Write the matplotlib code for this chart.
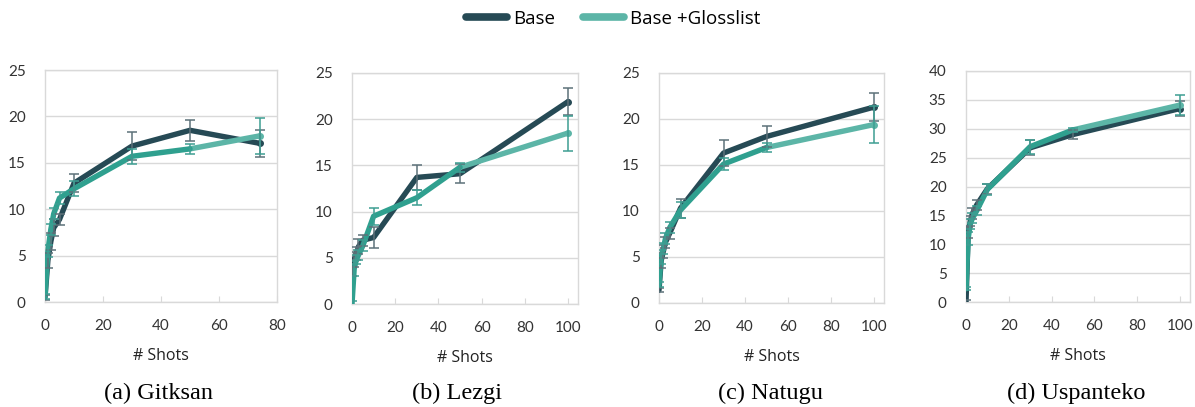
import matplotlib
matplotlib.use("Agg")
import matplotlib.pyplot as plt
from matplotlib.lines import Line2D

# ---------------- data ----------------
languages = ["Gitksan", "Lezgi", "Natugu", "Uspanteko"]
captions = ["(a) Gitksan", "(b) Lezgi", "(c) Natugu", "(d) Uspanteko"]
series_names = ["Base", "Base +Glosslist"]

shots_gitksan = [0, 1, 2, 3, 5, 10, 30, 50, 74]
shots_other = [0, 1, 2, 3, 5, 10, 30, 50, 100]

gitksan_base = [0.5, 4.5, 6.5, 8.0, 8.9, 12.8, 16.8, 18.5, 17.1]
gitksan_base_err = [0.3, 0.8, 0.9, 0.9, 0.6, 1.0, 1.5, 1.1, 1.45]
gitksan_gloss = [0.6, 5.5, 7.8, 9.5, 11.2, 12.2, 15.7, 16.5, 17.9]
gitksan_gloss_err = [0.3, 0.6, 0.6, 0.6, 0.6, 0.8, 0.8, 0.55, 1.95]

lezgi_base = [3.5, 4.8, 5.5, 6.2, 6.9, 7.2, 13.7, 14.1, 21.9]
lezgi_base_err = [0.5, 0.8, 0.7, 0.8, 0.6, 1.1, 1.35, 1.05, 1.45]
lezgi_gloss = [0.0, 3.8, 4.8, 5.3, 6.3, 9.5, 11.5, 14.8, 18.5]
lezgi_gloss_err = [0.3, 0.8, 0.5, 0.5, 0.6, 0.9, 0.8, 0.5, 1.9]

natugu_base = [1.4, 4.6, 5.6, 6.6, 7.6, 10.3, 16.3, 18.1, 21.3]
natugu_base_err = [0.2, 0.8, 0.7, 0.6, 0.6, 1.05, 1.4, 1.15, 1.55]
natugu_gloss = [2.0, 5.0, 5.9, 7.0, 8.2, 10.1, 15.1, 16.9, 19.4]
natugu_gloss_err = [0.3, 0.8, 0.6, 0.6, 0.6, 0.85, 0.65, 0.45, 2.0]

uspanteko_base = [0.0, 12.0, 14.0, 15.3, 16.8, 19.6, 26.7, 29.0, 33.5]
uspanteko_base_err = [0.3, 1.0, 0.9, 0.9, 0.8, 0.9, 1.3, 0.8, 1.3]
uspanteko_gloss = [2.3, 11.0, 13.5, 14.5, 15.8, 19.5, 26.9, 29.8, 34.1]
uspanteko_gloss_err = [0.3, 1.2, 0.9, 0.9, 0.8, 0.9, 1.2, 0.4, 1.8]

panel_data = [
    (shots_gitksan, gitksan_base, gitksan_base_err, gitksan_gloss, gitksan_gloss_err),
    (shots_other, lezgi_base, lezgi_base_err, lezgi_gloss, lezgi_gloss_err),
    (shots_other, natugu_base, natugu_base_err, natugu_gloss, natugu_gloss_err),
    (shots_other, uspanteko_base, uspanteko_base_err, uspanteko_gloss, uspanteko_gloss_err),
]
xlims = [(0, 80), (0, 104.6), (0, 104.6), (0, 104.7)]
ylims = [(0, 25), (0, 25), (0, 25), (0, 40)]
yticks = [range(0, 26, 5), range(0, 26, 5), range(0, 26, 5), range(0, 41, 5)]
xticks = [range(0, 81, 20), range(0, 101, 20), range(0, 101, 20), range(0, 101, 20)]

# ---------------- style ----------------
W, H = 1195, 407
BASE_C = "#264a55"
GLOSS_C = "#2fa08f"
GLOSS_LIGHT = "#5cb5a7"
BASE_ERR_C = "#5d7179"
GLOSS_ERR_C = "#3d9e92"
GRID_C = "#d9d9d9"
TICK_FONT = ["Lato", "DejaVu Sans"]
LABEL_FONT = ["Open Sans", "DejaVu Sans"]

fig = plt.figure(figsize=(W / 100, H / 100), dpi=100)

# pixel boxes: left, right, top, bottom
boxes = [(45, 277, 70, 302), (352, 578, 73, 304), (659, 884, 73, 303), (966, 1190, 71, 302)]
caption_x = [158, 457, 770, 1076]

LW = 3.9
for i, (box, data) in enumerate(zip(boxes, panel_data)):
    l, r, t, b = box
    ax = fig.add_axes([l / W, 1 - b / H, (r - l) / W, (b - t) / H])
    x, bm, be, gm, ge = data
    # base series
    ax.errorbar(x, bm, yerr=be, fmt="none", ecolor=BASE_ERR_C,
                elinewidth=1.1, capsize=3.5, capthick=1.1, zorder=5)
    ax.plot(x, bm, color=BASE_C, lw=LW, solid_capstyle="round",
            solid_joinstyle="round", zorder=3)
    ax.plot(x[-1:], bm[-1:], "o", color=BASE_C, ms=4, zorder=3)
    # glosslist series (last segment drawn lighter as in the original)
    ax.errorbar(x, gm, yerr=ge, fmt="none", ecolor=GLOSS_ERR_C,
                elinewidth=1.1, capsize=3.5, capthick=1.1, zorder=6)
    ax.plot(x[-2:], gm[-2:], color=GLOSS_LIGHT, lw=LW, solid_capstyle="round",
            solid_joinstyle="round", zorder=4)
    ax.plot(x[:-1], gm[:-1], color=GLOSS_C, lw=LW, solid_capstyle="round",
            solid_joinstyle="round", zorder=4)
    ax.plot(x[-1:], gm[-1:], "o", color=GLOSS_LIGHT, ms=4, zorder=4)

    ax.set_xlim(*xlims[i])
    ax.set_ylim(*ylims[i])
    ax.set_yticks(list(yticks[i]))
    ax.set_xticks(list(xticks[i]))
    ax.grid(axis="y", color=GRID_C, lw=1.0, zorder=0)
    ax.set_axisbelow(True)
    for s in ax.spines.values():
        s.set_color(GRID_C)
        s.set_linewidth(1.0)
    ax.tick_params(axis="y", length=0, pad=14, labelsize=11, labelcolor="#333333")
    ax.tick_params(axis="x", direction="in", length=4, color=GRID_C, pad=12,
                   labelsize=11, labelcolor="#333333")
    for lab in ax.get_xticklabels() + ax.get_yticklabels():
        lab.set_fontfamily(TICK_FONT)
    ax.set_xlabel("# Shots", fontsize=11.5, family=LABEL_FONT, color="#222222", labelpad=11)
    fig.text(caption_x[i] / W, 1 - 393 / H, captions[i], ha="center", va="center",
             fontsize=17.5, family=["Liberation Serif", "DejaVu Serif"])

handles = [Line2D([], [], color=BASE_C, lw=5.5, solid_capstyle="round"),
           Line2D([], [], color=GLOSS_LIGHT, lw=5.5, solid_capstyle="round")]
fig.legend(handles, series_names, loc="center", bbox_to_anchor=(613 / W, 1 - 19 / H),
           ncol=2, frameon=False, handlelength=2.2, handletextpad=0.3, columnspacing=1.5,
           borderpad=0, prop={"family": LABEL_FONT, "size": 13.5})

fig.savefig("out.png", dpi=100)
